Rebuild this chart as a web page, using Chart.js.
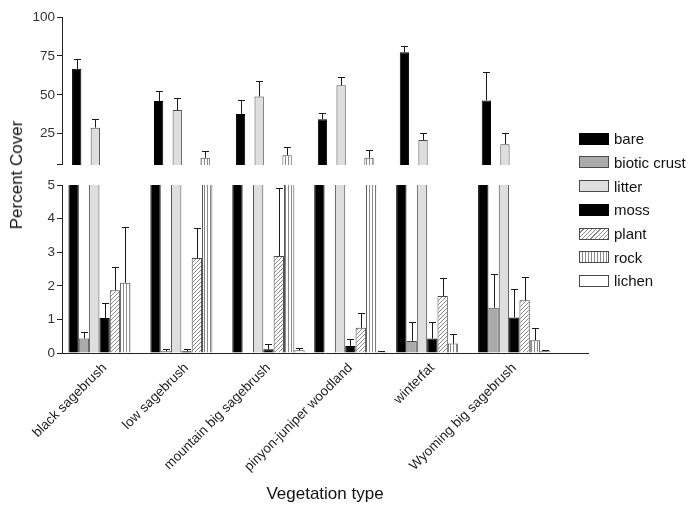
<!DOCTYPE html>
<html><head><meta charset="utf-8">
<script src="https://cdn.jsdelivr.net/npm/chart.js@4.4.0/dist/chart.umd.min.js"></script>
<style>
html,body{margin:0;padding:0;background:#fff;}
#wrap{position:relative;width:697px;height:510px;overflow:hidden;font-family:"Liberation Sans",Arial,sans-serif;background:#fff;}
#topc{position:absolute;left:0;top:0;}
#botc{position:absolute;left:0;top:175px;}
#ytitle{position:absolute;left:17px;top:175px;transform:translate(-50%,-50%) rotate(-90deg);font-size:17px;white-space:nowrap;color:#111;}
.lg{position:absolute;left:579px;height:24px;display:flex;align-items:center;font-size:15px;color:#111;white-space:nowrap;}
.sw{width:28px;height:10px;border:1px solid #444;margin-right:5px;box-sizing:content-box;}
</style></head>
<body><div id="wrap">
<canvas id="topc" width="697" height="175"></canvas>
<canvas id="botc" width="697" height="335"></canvas>
<div id="ytitle">Percent Cover</div>
<div id="legend"></div>
</div>
<script>
const categories = ['black sagebrush','low sagebrush','mountain big sagebrush','pinyon-juniper woodland','winterfat','Wyoming big sagebrush'];
const seriesNames = ['bare','biotic crust','litter','moss','plant','rock','lichen'];
const bare        = [66.7, 46.0, 37.7, 34.4, 77.3, 46.4];
const bareErr     = [6.4, 6.3, 8.7, 3.9, 3.8, 18.0];
const bioticCrust = [0.43, 0.05, 0, 0, 0.36, 1.35];
const bioticErr   = [0.20, 0.07, 0, 0, 0.55, 0.99];
const litter      = [28.9, 40.2, 48.9, 56.2, 21.0, 18.3];
const litterErr   = [5.7, 7.9, 9.7, 5.5, 4.2, 7.3];
const moss        = [1.04, 0.05, 0.11, 0.21, 0.43, 1.06];
const mossErr     = [0.46, 0.07, 0.17, 0.22, 0.48, 0.86];
const plant       = [1.87, 2.83, 2.89, 0.75, 1.70, 1.57];
const plantErr    = [0.69, 0.88, 2.03, 0.45, 0.52, 0.70];
const rock        = [2.09, 9.6, 11.2, 9.6, 0.28, 0.38];
const rockErr     = [1.67, 4.2, 5.0, 4.8, 0.30, 0.35];
const lichen      = [0, 0, 0.08, 0.03, 0, 0.05];
const lichenErr   = [0, 0, 0.08, 0.03, 0, 0.04];
const topTicks    = [25, 50, 75, 100];
const bottomTicks = [0, 1, 2, 3, 4, 5];

const seriesValues = [bare, bioticCrust, litter, moss, plant, rock, lichen];
const seriesErrors = [bareErr, bioticErr, litterErr, mossErr, plantErr, rockErr, lichenErr];

const tmp = document.createElement('canvas').getContext('2d');
function pat(kind){
  const c = document.createElement('canvas');
  const s = kind === 'diag' ? 4 : 3;
  c.width = s; c.height = s;
  const g = c.getContext('2d');
  g.fillStyle = '#fff'; g.fillRect(0,0,s,s);
  g.strokeStyle = '#8a8a8a'; g.lineWidth = 1;
  g.beginPath();
  if (kind === 'diag') {
    g.moveTo(0,s); g.lineTo(s,0);
    g.moveTo(-1,1); g.lineTo(1,-1);
    g.moveTo(s-1,s+1); g.lineTo(s+1,s-1);
  } else {
    g.moveTo(0.5,0); g.lineTo(0.5,s);
  }
  g.stroke();
  return tmp.createPattern(c,'repeat');
}
const fills = ['#000000', '#ababab', '#dedede', '#000000', pat('diag'), pat('vert'), '#ffffff'];
const borders = ['#000000', '#4a4a4a', '#4a4a4a', '#000000', '#4a4a4a', '#4a4a4a', '#4a4a4a'];
const swatchCss = ['#000', '#ababab', '#dedede', '#000',
  'repeating-linear-gradient(135deg,#fff 0 2px,#8a8a8a 2px 3px)',
  'repeating-linear-gradient(90deg,#fff 0 2px,#8a8a8a 2px 3px)', '#fff'];

function buildDatasets(){
  return seriesNames.map((name, i) => ({
    label: name,
    data: seriesValues[i].map((v, j) => ({x: j, y: v})),
    errors: seriesErrors[i],
    backgroundColor: fills[i],
    borderColor: borders[i],
    borderWidth: 1,
    clip: 0
  }));
}

const errorBars = {
  id: 'errorBars',
  afterDatasetsDraw(chart){
    const {ctx, chartArea: a} = chart;
    const ys = chart.scales.y;
    ctx.save();
    ctx.beginPath(); ctx.rect(a.left, a.top - 1, a.right - a.left, a.bottom - a.top + 1); ctx.clip();
    ctx.strokeStyle = '#1a1a1a'; ctx.lineWidth = 1;
    chart.data.datasets.forEach((ds, i) => {
      const meta = chart.getDatasetMeta(i);
      meta.data.forEach((bar, j) => {
        const v = ds.data[j].y, e = ds.errors[j];
        if (!e) return;
        if (ys.min > 0 && v + e <= ys.min + 0.3) return;
        const y0 = ys.getPixelForValue(v), y1 = Math.round(ys.getPixelForValue(v + e)) + 0.5;
        const x = Math.round(bar.x) + 0.5;
        ctx.beginPath();
        ctx.moveTo(x, y0); ctx.lineTo(x, y1);
        ctx.moveTo(x - 3.5, y1); ctx.lineTo(x + 3.5, y1);
        ctx.stroke();
      });
    });
    ctx.restore();
  }
};

Chart.defaults.font.family = '"Liberation Sans", Arial, sans-serif';
Chart.defaults.color = '#222';
const XMIN = -0.52, XMAX = 5.9;

const common = {
  responsive: false,
  animation: false,
  events: [],
  datasets: { bar: { categoryPercentage: 0.883, barPercentage: 1.0, grouped: true } },
  plugins: { legend: { display: false }, tooltip: { enabled: false } }
};

new Chart(document.getElementById('topc'), {
  type: 'bar',
  data: { datasets: buildDatasets() },
  plugins: [errorBars],
  options: Object.assign({}, common, {
    layout: { padding: { top: 17, bottom: 6, left: 0, right: 109 } },
    scales: {
      x: { type: 'linear', min: XMIN, max: XMAX, display: false, offset: false },
      y: {
        min: 5, max: 100,
        afterBuildTicks: s => { s.ticks = [5].concat(topTicks).map(v => ({value: v})); },
        afterFit: s => { s.width = 62; },
        ticks: { font: { size: 13.5 }, color: '#333', padding: 2, callback: v => v === 5 ? '' : String(v) },
        grid: { drawOnChartArea: false, drawTicks: true, tickLength: 5, color: '#222' },
        border: { display: true, color: '#222', width: 1 }
      }
    }
  })
});

new Chart(document.getElementById('botc'), {
  type: 'bar',
  data: { datasets: buildDatasets() },
  plugins: [errorBars],
  options: Object.assign({}, common, {
    layout: { padding: { top: 10, bottom: 0, left: 0, right: 109 } },
    scales: {
      x: {
        type: 'linear', min: XMIN, max: XMAX, offset: false,
        afterBuildTicks: s => { s.ticks = categories.map((c, i) => ({value: i})); },
        afterFit: s => { s.height = 157; },
        ticks: { autoSkip: false, minRotation: 45, maxRotation: 45, font: { size: 13.5 }, color: '#222', padding: 7,
          callback: v => categories[v] },
        grid: { display: false, drawTicks: false },
        border: { display: true, color: '#222', width: 1 },
        title: { display: true, text: 'Vegetation type', font: { size: 17 }, color: '#111', padding: { top: 4, bottom: 5 } }
      },
      y: {
        min: 0, max: 5,
        afterBuildTicks: s => { s.ticks = bottomTicks.map(v => ({value: v})); },
        afterFit: s => { s.width = 62; },
        ticks: { font: { size: 13.5 }, color: '#333', padding: 2 },
        grid: { drawOnChartArea: false, drawTicks: true, tickLength: 5, color: '#222' },
        border: { display: true, color: '#222', width: 1 }
      }
    }
  })
});

const lg = document.getElementById('legend');
seriesNames.forEach((name, i) => {
  const row = document.createElement('div');
  row.className = 'lg';
  row.style.top = (126.7 + i * 23.7) + 'px';
  const sw = document.createElement('div');
  sw.className = 'sw';
  sw.style.background = swatchCss[i];
  sw.style.borderColor = (i === 0 || i === 3) ? '#000' : '#4a4a4a';
  const t = document.createElement('span');
  t.textContent = name;
  row.appendChild(sw); row.appendChild(t);
  lg.appendChild(row);
});
</script>
</body></html>
